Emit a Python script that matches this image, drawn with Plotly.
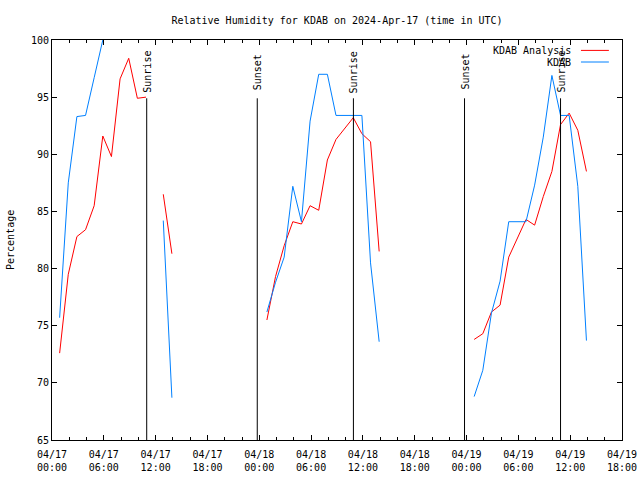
import pandas as pd
import plotly.graph_objects as go

# hourly observation times (hh:53 UTC)
obs_times = pd.date_range("2024-04-17 00:53", periods=62, freq="h")

analysis = [72.6, 79.5, 82.8, 83.4, 85.5, 91.6, 89.8, 96.6, 98.4, 94.9, 95.0, None,
            86.5, 81.3, None, None, None, None, None, None, None, None, None, None,
            75.5, 79.3, 82.0, 84.1, 83.9, 85.5, 85.1, 89.5, 91.3, 92.2, 93.2, 91.8,
            91.1, 81.5, None, None, None, None, None, None, None, None, None, None,
            73.8, 74.3, 76.2, 76.8, 81.0, 82.7, 84.3, 83.8, 86.3, 88.5, 92.6, 93.6,
            92.1, 88.5]

kdab = [75.7, 87.5, 93.3, 93.4, 96.7, 100, None, None, None, None, None, None,
        84.2, 68.7, None, None, None, None, None, None, None, None, None, None,
        76.2, 78.8, 81.0, 87.2, 84.1, 92.9, 97.0, 97.0, 93.4, 93.4, 93.4, 93.4,
        80.5, 73.6, None, None, None, None, None, None, None, None, None, None,
        68.8, 71.1, 76.1, 78.9, 84.1, 84.1, 84.1, 87.3, 91.5, 96.9, 93.4, 93.4,
        87.2, 73.7]

sun_times = ["2024-04-17 10:58", "2024-04-17 23:46", "2024-04-18 10:54",
             "2024-04-18 23:46", "2024-04-19 10:53"]
sun_labels = ["Sunrise", "Sunset", "Sunrise", "Sunset", "Sunrise"]

tick_vals = pd.date_range("2024-04-17 00:00", "2024-04-19 18:00", freq="6h")
tick_labels = ["04/17<br>00:00", "04/17<br>06:00", "04/17<br>12:00", "04/17<br>18:00",
               "04/18<br>00:00", "04/18<br>06:00", "04/18<br>12:00", "04/18<br>18:00",
               "04/19<br>00:00", "04/19<br>06:00", "04/19<br>12:00", "04/19<br>18:00"]

series_names = ["KDAB Analysis", "KDAB"]
series_colors = ["#ff0000", "#0080ff"]

FONT = dict(family="DejaVu Sans Mono, Liberation Mono, monospace", size=10, color="black")

fig = go.Figure()
for name, vals, col in zip(series_names, [analysis, kdab], series_colors):
    fig.add_trace(go.Scatter(x=obs_times, y=vals, mode="lines", name=name,
                             line=dict(color=col, width=1), connectgaps=False,
                             showlegend=False))

shapes = []
annotations = []
for t, lab in zip(sun_times, sun_labels):
    shapes.append(dict(type="line", xref="x", yref="y", x0=t, x1=t, y0=65, y1=94.9,
                       line=dict(color="black", width=1)))
    annotations.append(dict(x=t, y=97.2, xref="x", yref="y", text=lab, textangle=-90,
                            showarrow=False, font=FONT, xanchor="center", yanchor="middle"))

# legend (gnuplot style: text right aligned, sample to the right)
leg_y = [0.974, 0.945]
for i, (name, col) in enumerate(zip(series_names, series_colors)):
    annotations.append(dict(x=0.914, y=leg_y[i], xref="paper", yref="paper", text=name,
                            showarrow=False, font=FONT, xanchor="right", yanchor="middle"))
    shapes.append(dict(type="line", xref="paper", yref="paper", x0=0.928, x1=0.977,
                       y0=leg_y[i], y1=leg_y[i], line=dict(color=col, width=1)))

# y-axis title
annotations.append(dict(x=0, y=0.5, xref="paper", yref="paper", text="Percentage",
                        textangle=-90, showarrow=False, font=FONT, xshift=-42,
                        xanchor="center", yanchor="middle"))

fig.update_layout(
    width=640, height=480,
    margin=dict(l=52, r=18, t=40, b=40, autoexpand=False),
    paper_bgcolor="white", plot_bgcolor="white",
    title=dict(text="Relative Humidity for KDAB on 2024-Apr-17 (time in UTC)",
               x=0.5, xref="paper", y=1 - 20 / 480, yanchor="middle", font=FONT),
    font=FONT,
    shapes=shapes,
    annotations=annotations,
    showlegend=False,
)

fig.update_xaxes(
    type="date", range=["2024-04-17 00:00", "2024-04-19 18:00"],
    tickmode="array", tickvals=tick_vals, ticktext=tick_labels,
    ticks="inside", ticklen=5, tickcolor="black", tickwidth=1,
    showline=True, linecolor="black", linewidth=1, mirror="allticks",
    showgrid=False, zeroline=False, tickfont=FONT, automargin=False,
    ticklabelstandoff=5,
    minor=dict(ticks="inside", ticklen=3, tickcolor="black", dtick=2 * 3600 * 1000,
               tick0="2024-04-17", showgrid=False),
)
fig.update_yaxes(
    range=[65, 100], tickmode="linear", tick0=65, dtick=5,
    ticks="inside", ticklen=5, tickcolor="black", tickwidth=1,
    showline=True, linecolor="black", linewidth=1, mirror="allticks",
    showgrid=False, zeroline=False, tickfont=FONT, automargin=False,
)

fig.write_html("out.html", config={"displayModeBar": False},
               post_script="document.body.style.margin='0px';")
